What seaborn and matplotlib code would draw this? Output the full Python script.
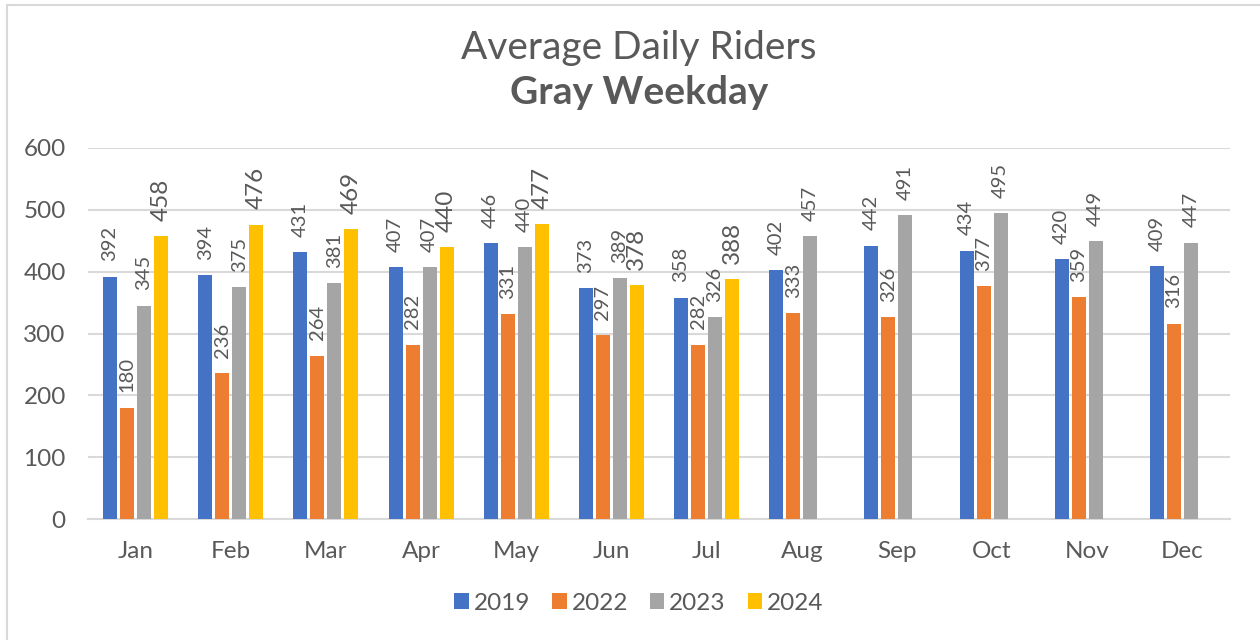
import numpy as np
import pandas as pd
import seaborn as sns
import matplotlib.pyplot as plt
from matplotlib.patches import Rectangle

months = ["Jan", "Feb", "Mar", "Apr", "May", "Jun", "Jul", "Aug", "Sep", "Oct", "Nov", "Dec"]
years = ["2019", "2022", "2023", "2024"]
riders_2019 = [392, 394, 431, 407, 446, 373, 358, 402, 442, 434, 420, 409]
riders_2022 = [180, 236, 264, 282, 331, 297, 282, 333, 326, 377, 359, 316]
riders_2023 = [345, 375, 381, 407, 440, 389, 326, 457, 491, 495, 449, 447]
riders_2024 = [458, 476, 469, 440, 477, 378, 388, None, None, None, None, None]
yticks = [0, 100, 200, 300, 400, 500, 600]

colors = ["#4472C4", "#ED7D31", "#A5A5A5", "#FFC000"]
text_c = "#595959"
grid_c = "#D9D9D9"

sns.set_theme(style="white")
plt.rcParams["font.family"] = ["Lato", "DejaVu Sans"]

rows = []
for yr, vals in zip(years, [riders_2019, riders_2022, riders_2023, riders_2024]):
    for m, v in zip(months, vals):
        rows.append([m, yr, np.nan if v is None else v])
df = pd.DataFrame(rows, columns=["Month", "Year", "Riders"])

fig = plt.figure(figsize=(12.6, 6.4), dpi=100)
ax = fig.add_axes([88 / 1260, 1 - 519 / 640, (1230 - 88) / 1260, (519 - 148) / 640])

sns.barplot(data=df, x="Month", y="Riders", hue="Year", order=months,
            hue_order=years, palette=colors, saturation=1, width=0.715,
            gap=0.17, linewidth=0, ax=ax, zorder=3)

# value labels, rotated, bigger for 2024
for i, cont in enumerate(ax.containers):
    size = 17.5 if years[i] == "2024" else 14.5
    for bar in cont:
        if bar is None or np.isnan(bar.get_height()):
            continue
        h = bar.get_height()
        ax.annotate(f"{int(round(h))}", (bar.get_x() + bar.get_width() / 2, h),
                    xytext=(0, 11), textcoords="offset points", rotation=90,
                    ha="center", va="bottom", fontsize=size, color=text_c,
                    annotation_clip=False)

ax.set_ylim(0, 600)
ax.set_yticks(yticks)
ax.set_yticklabels([str(t) for t in yticks])
ax.set_xlim(-0.5, 11.5)
ax.yaxis.grid(True, color=grid_c, linewidth=1.5, zorder=0)
ax.set_axisbelow(True)
sns.despine(ax=ax, left=True, top=True, right=True)
ax.spines["bottom"].set_color(grid_c)
ax.spines["bottom"].set_linewidth(1.5)
ax.tick_params(axis="y", length=0, pad=16, labelsize=17.5, labelcolor=text_c)
ax.tick_params(axis="x", length=0, pad=16, labelsize=17.5, labelcolor=text_c)
ax.set_xlabel("")
ax.set_ylabel("")

handles, lbls = ax.get_legend_handles_labels()
ax.legend(handles, lbls, loc="center", bbox_to_anchor=(639 / 1260, 1 - 603 / 640),
          bbox_transform=fig.transFigure, ncol=4, frameon=False,
          fontsize=17.5, handlelength=0.6, handleheight=0.6, handletextpad=0.2,
          columnspacing=0.9, labelcolor=text_c)

fig.text(639 / 1260, 1 - 48 / 640, "Average Daily Riders", ha="center", va="center",
         fontsize=28, fontweight="normal", color=text_c)
fig.text(639 / 1260, 1 - 93 / 640, "Gray Weekday", ha="center", va="center",
         fontsize=28, fontweight="bold", color=text_c)

fig.patches.append(Rectangle((7 / 1260, -0.05), 1.1, 1 - 5 / 640 + 0.05,
                             transform=fig.transFigure, fill=False,
                             edgecolor=grid_c, linewidth=1.5))

plt.savefig("out.png", dpi=100)
